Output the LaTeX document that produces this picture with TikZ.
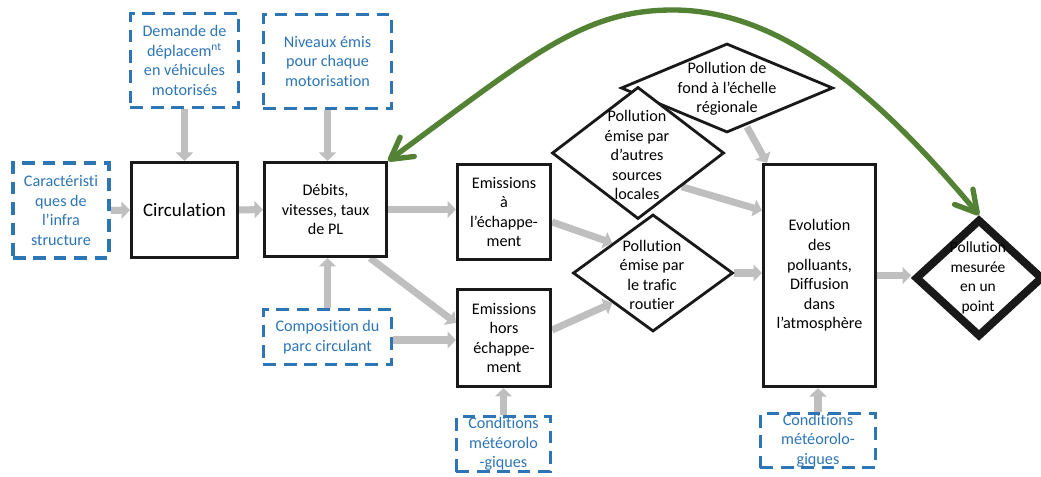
\documentclass[tikz,border=0pt]{standalone}
\usepackage{fontspec}
\setmainfont{Carlito}[Ligatures={NoCommon,NoContextual}, Contextuals=NoAlternate]
\usetikzlibrary{shapes.geometric,arrows.meta,calc}
\definecolor{dblue}{HTML}{2E75B6}
\definecolor{agray}{HTML}{BFBFBF}
\definecolor{dgreen}{HTML}{548235}
\newcommand{\diagfs}{\fontsize{11.5pt}{13.9pt}\selectfont}
\pgfdeclarelayer{bg}
\pgfsetlayers{bg,main}
\begin{document}
\begin{tikzpicture}[x=0.025cm,y=-0.025cm,
  blk/.style={draw=black!90, line width=2.2pt, fill=white, inner sep=0pt, align=center, font=\diagfs},
  dsh/.style={draw=dblue, line width=2.4pt, dash pattern=on 9pt off 5.5pt, fill=white, text=dblue, inner sep=0pt, align=center, font=\diagfs},
  dia/.style={diamond, draw=black!90, line width=2pt, fill=white, inner sep=0pt},
  txt/.style={align=center, inner sep=0pt, font=\diagfs},
  garrow/.style={draw=agray, line width=5pt, -{Triangle[length=6pt,width=12pt]}},
  fbarrow/.style={draw=dgreen, line width=3.8pt, line cap=round,
     {Straight Barb[length=15pt,width=17pt,round]}-{Straight Barb[length=15pt,width=17pt,round]}}
]
\useasboundingbox (0,0) rectangle (1041,477);

% left column
\node[dsh, minimum width=2.4cm, minimum height=2.375cm] (caract) at (61,210.5) {Caractéristi\\ques de\\l’infra\\structure};
\node[blk, minimum width=2.65cm, minimum height=2.375cm] (circ) at (184.5,210) {\fontsize{13.5pt}{16pt}\selectfont Circulation};
\node[blk, minimum width=3.05cm, minimum height=2.35cm] (debits) at (325.5,209.5) {Débits,\\vitesses, taux\\de PL};
\node[dsh, minimum width=2.7cm, minimum height=2.35cm] (demande) at (184.5,60.5) {Demande de\\déplacem\textsuperscript{nt}\\en véhicules\\motorisés};
\node[dsh, minimum width=3.2cm, minimum height=2.35cm] (niveaux) at (327.5,61.5) {Niveaux émis\\pour chaque\\motorisation};
\node[dsh, minimum width=3.2cm, minimum height=1.375cm] (compo) at (327.5,337) {Composition du\\parc circulant};

% emissions
\node[blk, minimum width=2.325cm, minimum height=2.375cm] (emA) at (504,212) {Emissions\\à\\l’échappe-\\ment};
\node[blk, minimum width=2.325cm, minimum height=2.425cm] (emH) at (504,338) {Emissions\\hors\\échappe-\\ment};
\node[dsh, minimum width=2.35cm, minimum height=1.375cm] (cond1) at (503.5,444) {Conditions\\météorolo\\-giques};

% diamonds
\node[dia, minimum width=5.3cm, minimum height=2.225cm] (fond) at (727,88) {};
\node[dia, minimum width=4.3cm, minimum height=3.3cm] (autres) at (638,153) {};
\node[dia, minimum width=4.0cm, minimum height=2.925cm] (trafic) at (653,273) {};
\node[txt] (fondT) at (727,89) {Pollution de\\fond à l’échelle\\régionale};
\node[txt] (autresT) at (637,155) {Pollution\\émise par\\d’autres\\sources\\locales};
\node[txt] (traficT) at (652,275) {Pollution\\émise par\\le trafic\\routier};

% evolution
\node[blk, minimum width=2.8cm, minimum height=5.55cm] (evol) at (819.5,275.5) {Evolution\\des\\polluants,\\Diffusion\\dans\\l’atmosphère};
\node[dsh, minimum width=2.875cm, minimum height=1.35cm] (cond2) at (818,440.5) {Conditions\\météorolo-\\giques};

% measured
\node[diamond, draw=black!90, line width=5.6pt, fill=white, inner sep=0pt, minimum width=3.2cm, minimum height=2.95cm] (mes) at (979,278) {};
\node[txt, font=\fontsize{11pt}{13.9pt}\selectfont] (mesT) at (978,278) {Pollution\\mesurée\\en un\\point};

% gray arrows
\begin{pgfonlayer}{bg}
\draw[garrow] (caract.east) -- (circ.west);
\draw[garrow] (demande.south) -- (circ.north);
\draw[garrow] (circ.east) -- (debits.west);
\draw[garrow] (niveaux.south) -- (niveaux.south |- debits.north);
\draw[garrow] (compo.north) -- (compo.north |- debits.south);
\draw[garrow] (debits.east) -- (debits.east -| emA.west);
\draw[garrow] ($(debits.south east)+(-18,0)$) -- ($(emH.west)+(0,-15)$);
\draw[garrow] ($(compo.east)+(0,3)$) -- ($(compo.east -| emH.west)+(0,3)$);
\draw[garrow] ($(emA.east)+(0,10)$) -- (trafic.north west);
\draw[garrow] ($(emH.east)+(0,-8)$) -- (trafic.south west);
\draw[garrow] ($(fond.south)+(20,-7)$) -- ($(evol.north west)+(5,0)$);
\draw[garrow] (autres.south east) -- ($(evol.west)+(0,-65)$);
\draw[garrow] (trafic.east) -- (trafic.east -| evol.west);
\draw[garrow] (evol.east) -- (evol.east -| mes.west);
\draw[garrow] (cond1.north) -- (cond1.north |- emH.south);
\draw[garrow] (cond2.north) -- (cond2.north |- evol.south);
\end{pgfonlayer}

% green feedback arrow
\draw[fbarrow] (debits.north east) .. controls (532,55) and (583,10) .. (673,10)
   .. controls (783,10) and (881,98) .. (mes.north);
\end{tikzpicture}
\end{document}
